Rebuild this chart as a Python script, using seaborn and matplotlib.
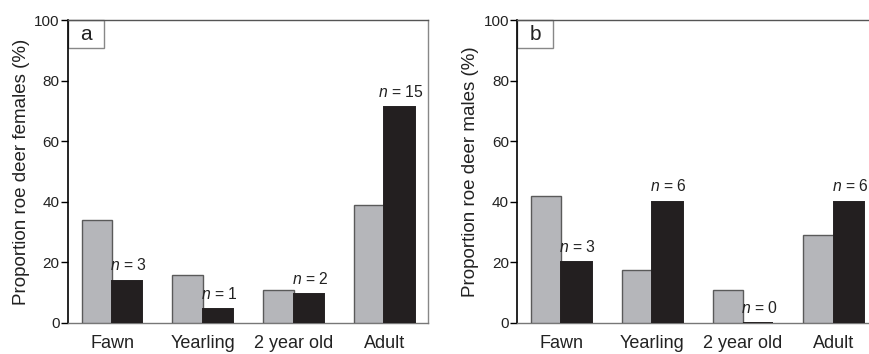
import matplotlib
matplotlib.use("Agg")
import matplotlib.pyplot as plt
import matplotlib.patches as mpatches
import seaborn as sns
import pandas as pd

# ---- data ----
stages = ["Fawn", "Yearling", "2 year old", "Adult"]
series = ["Available", "Observed"]
females_available = [34, 16, 11, 39]
females_observed = [14, 4.6, 9.6, 71.3]
males_available = [42, 17.5, 11, 29]
males_observed = [20, 40, 0, 40]
n_females = [3, 1, 2, 15]
n_males = [3, 6, 0, 6]
yticks = [0, 20, 40, 60, 80, 100]

sns.set_style("ticks")
plt.rcParams["font.family"] = ["Liberation Sans", "DejaVu Sans"]
plt.rcParams["mathtext.fontset"] = "custom"
plt.rcParams["mathtext.it"] = "Liberation Sans:italic"
plt.rcParams["mathtext.rm"] = "Liberation Sans"

GRAY = "#b5b6ba"
BLACK = "#231f20"
TEXT = "#222222"

fig = plt.figure(figsize=(8.69, 3.54), dpi=100)
W, H = 869, 354
ax_w = 360 / W
ax_h = 303 / H
ax_a = fig.add_axes([68 / W, 31 / H, ax_w, ax_h])
ax_b = fig.add_axes([517.3 / W, 31 / H, ax_w, ax_h])


def make_df(avail, obs):
    return pd.DataFrame({
        "stage": stages * 2,
        "group": [series[0]] * len(stages) + [series[1]] * len(stages),
        "pct": list(avail) + list(obs),
    })


def draw(ax, avail, obs, ns, ylabel, letter):
    df = make_df(avail, obs)
    sns.barplot(data=df, x="stage", y="pct", hue="group", order=stages,
                hue_order=series, palette=[GRAY, BLACK], saturation=1,
                width=0.67, gap=0, legend=False, ax=ax, linewidth=1.0,
                edgecolor=BLACK, errorbar=None)
    for p in ax.patches:
        fc = p.get_facecolor()
        if fc[0] > 0.5:
            p.set_edgecolor("#5a5a5a")
        else:
            p.set_edgecolor(BLACK)
            p.set_linewidth(1.4)
        p.set_zorder(3)
    ax.set_xlim(-0.485, 3.48)
    ax.set_ylim(0, 100)
    ax.set_yticks(yticks)
    ax.set_yticklabels([str(t) for t in yticks], fontsize=11, color=TEXT)
    ax.set_xlabel("")
    ax.set_ylabel(ylabel, fontsize=13.5, labelpad=3, color=TEXT)
    ax.tick_params(axis="y", length=5, width=1, pad=1, color="black")
    ax.tick_params(axis="x", length=0, pad=9, labelsize=13, labelcolor=TEXT)
    ax.spines["left"].set_color("black")
    ax.spines["left"].set_linewidth(1.2)
    ax.spines["top"].set_color("#555555")
    ax.spines["right"].set_color("#888888")
    ax.spines["bottom"].set_color("#777777")
    for s in ["top", "right", "bottom"]:
        ax.spines[s].set_linewidth(1.0)
        ax.spines[s].set_visible(True)
    for i, (v, n) in enumerate(zip(obs, ns)):
        ax.text(i + 0.1675 + 0.015, v + 3.4, f"$n$ = {n}", ha="center",
                va="baseline", fontsize=11.3, color=TEXT)
    bw, bh = 35.7 / 360, 28 / 303
    rect = mpatches.Rectangle((0, 1 - bh), bw, bh, transform=ax.transAxes,
                              facecolor="white", edgecolor="#888888",
                              linewidth=1.0, clip_on=False, zorder=2)
    ax.add_patch(rect)
    ax.text(bw / 2, 1 - bh / 2, letter, transform=ax.transAxes, ha="center",
            va="center", fontsize=15, zorder=3, color=TEXT)


draw(ax_a, females_available, females_observed, n_females,
     "Proportion roe deer females (%)", "a")
draw(ax_b, males_available, males_observed, n_males,
     "Proportion roe deer males (%)", "b")

fig.savefig("out.png", dpi=100)
